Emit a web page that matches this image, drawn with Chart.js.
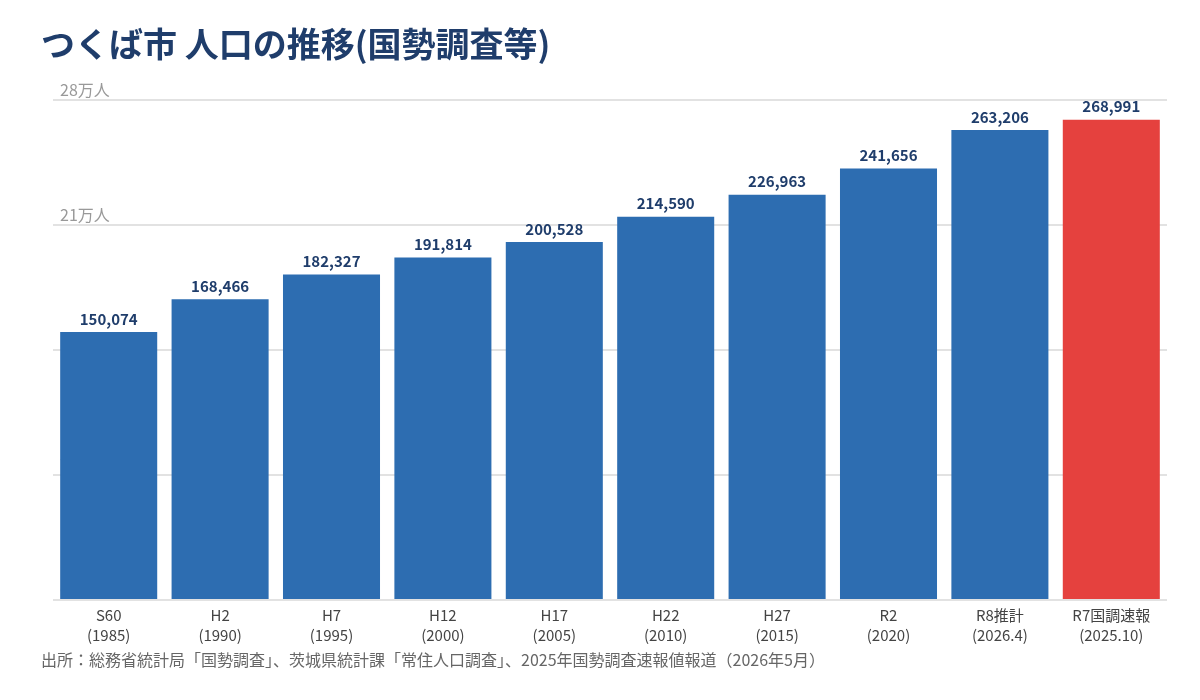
<!DOCTYPE html>
<html>
<head>
<meta charset="utf-8">
<script src="https://cdn.jsdelivr.net/npm/chart.js@4/dist/chart.umd.min.js"></script>
<style>
  html, body { margin: 0; padding: 0; background: #fff; }
  #box { width: 1200px; height: 700px; }
</style>
</head>
<body>
<div id="box"><canvas id="chartBox"></canvas></div>
<script>
const labels = [
    ['S60', '(1985)'], ['H2', '(1990)'], ['H7', '(1995)'], ['H12', '(2000)'], ['H17', '(2005)'],
    ['H22', '(2010)'], ['H27', '(2015)'], ['R2', '(2020)'], ['R8推計', '(2026.4)'], ['R7国調速報', '(2025.10)']
]
const population = [150074, 168466, 182327, 191814, 200528, 214590, 226963, 241656, 263206, 268991]
const barColors = ['#2d6db1', '#2d6db1', '#2d6db1', '#2d6db1', '#2d6db1', '#2d6db1', '#2d6db1', '#2d6db1', '#2d6db1', '#e5413e']
const yTicks = { min: 0, max: 280000, step: 70000 }

const font = '"Noto Sans CJK JP", "Noto Sans", sans-serif'

// value labels over each bar
const valueLabels = {
    id: 'valueLabels',
    afterDatasetsDraw(chart) {
        const ctx = chart.ctx
        const meta = chart.getDatasetMeta(0)
        ctx.save()
        ctx.font = 'bold 15px ' + font
        ctx.fillStyle = '#1f3d6b'
        ctx.textAlign = 'center'
        ctx.textBaseline = 'middle'
        meta.data.forEach((bar, i) => {
            ctx.fillText(population[i].toLocaleString('en-US'), bar.x, bar.y - 13)
        })
        ctx.restore()
    }
}

const context = document.querySelector('#chartBox').getContext('2d')
const chart = new Chart(context, {
    type: 'bar',
    data: {
        labels: labels,
        datasets: [{
            data: population,
            backgroundColor: barColors,
            borderWidth: 0,
            barPercentage: 0.871,
            categoryPercentage: 1
        }]
    },
    options: {
        responsive: true,
        maintainAspectRatio: false,
        animation: false,
        layout: { padding: { left: 41, right: 33, top: 0, bottom: 0 } },
        plugins: {
            legend: { display: false },
            tooltip: { enabled: false },
            title: {
                display: true,
                text: 'つくば市 人口の推移(国勢調査等)',
                align: 'start',
                color: '#1f3d6b',
                font: { family: font, size: 34, weight: 'bold', lineHeight: 1.2 },
                padding: { top: 24, bottom: 35.2 }
            },
            subtitle: {
                display: true,
                position: 'bottom',
                align: 'start',
                text: '出所：総務省統計局「国勢調査」、茨城県統計課「常住人口調査」、2025年国勢調査速報値報道（2026年5月）',
                color: '#666',
                font: { family: font, size: 16, lineHeight: 1.2 },
                padding: { top: 1, bottom: 30 }
            }
        },
        scales: {
            x: {
                grid: { display: false, drawTicks: false },
                border: { display: false },
                ticks: {
                    color: '#444',
                    font: { family: font, size: 15, lineHeight: 1.33 },
                    padding: 5,
                    maxRotation: 0,
                    autoSkip: false
                }
            },
            y: {
                min: yTicks.min,
                max: yTicks.max,
                afterFit: s => { s.width = 12 },
                grid: { color: '#e2e2e2', lineWidth: 2, drawTicks: false },
                border: { display: false },
                ticks: {
                    stepSize: yTicks.step,
                    mirror: true,
                    padding: 7,
                    labelOffset: -10,
                    color: '#999',
                    font: { family: font, size: 16 },
                    callback: v => (v / 10000) + '万人'
                }
            }
        }
    },
    plugins: [valueLabels]
})
</script>
</body>
</html>
